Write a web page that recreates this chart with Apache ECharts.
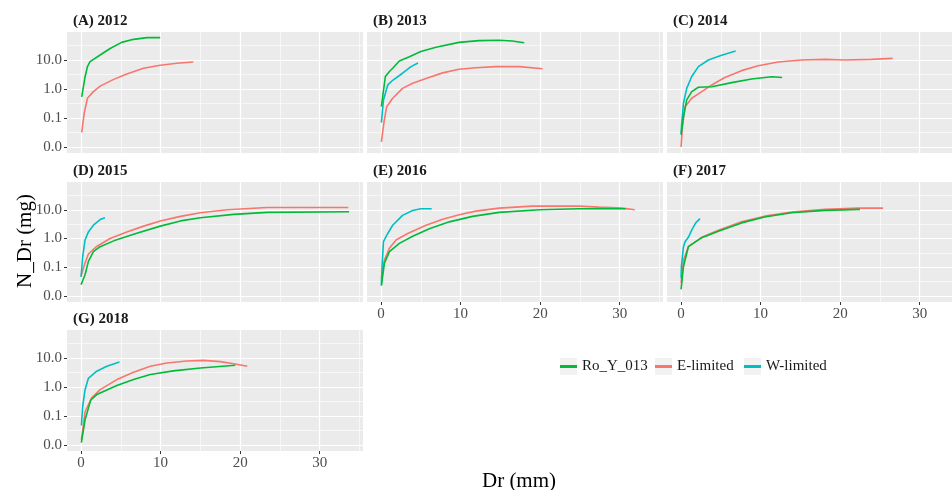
<!DOCTYPE html>
<html>
<head>
<meta charset="utf-8">
<script src="https://cdn.jsdelivr.net/npm/echarts@6/dist/echarts.min.js"></script>
<style>
  html, body { margin: 0; padding: 0; background: #fff; }
  #chart { width: 952px; height: 490px; }
</style>
</head>
<body>
<div id="chart"></div>
<script>
// panel titles and legend names
const panelTitles = ['(A) 2012', '(B) 2013', '(C) 2014', '(D) 2015', '(E) 2016', '(F) 2017', '(G) 2018'];
const seriesNames = ['Ro_Y_013', 'E-limited', 'W-limited'];
const seriesColors = ['#00BA38', '#F8766D', '#00BFC4'];

// tick positions (x in mm, y in log10 of mg) and labels
const xMajor = [0, 10, 20, 30];
const xMinor = [5, 15, 25, 35];
const yMajorLog = [-2, -1, 0, 1];
const yMinorLog = [-1.5, -0.5, 0.5, 1.5];
const yTickLabels = ['0.0', '0.1', '1.0', '10.0'];

// [Dr, N_Dr], one array per panel and series
const roA = [[0.08,0.54],[0.5,2.6],[0.8,5.9],[1.13,8.8],[2.4,14.9],[3.65,25],[5.1,40.6],[6.6,51.6],[8.3,59],[9.95,59]];
const eA  = [[0.08,0.032],[0.4,0.15],[0.8,0.48],[1.55,0.81],[2.4,1.26],[4.1,2.15],[5.75,3.3],[7.85,5.2],[9.95,6.6],[12.06,7.7],[14.1,8.5]];

const roB = [[0.04,0.245],[0.2,0.55],[0.54,2.7],[1.05,4.0],[1.46,5.2],[2.3,9.3],[3.56,13],[5.0,19.5],[6.9,27.5],[9.8,40.6],[12.3,46.6],[14.85,48],[16.5,45],[18.0,39.6]];
const eB  = [[0.04,0.015],[0.4,0.085],[0.71,0.245],[1.46,0.48],[2.7,1.05],[3.97,1.57],[5.65,2.3],[7.74,3.6],[9.8,4.8],[11.9,5.4],[14.4,5.9],[17.4,5.9],[20.3,5.0]];
const wB  = [[0.04,0.069],[0.3,0.42],[0.84,1.38],[1.46,2.0],[2.7,3.5],[3.77,5.9],[4.64,7.9]];

const roC = [[0,0.026],[0.3,0.11],[0.71,0.42],[1.34,0.81],[2.18,1.15],[3.85,1.2],[6.36,1.66],[8.87,2.2],[11.4,2.66],[12.7,2.5]];
const eC  = [[0,0.01],[0.17,0.05],[0.5,0.245],[1.34,0.48],[2.6,0.81],[3.85,1.38],[5.5,2.5],[7.6,4.3],[9.7,6.3],[12.2,8.5],[15.15,10],[18.1,10.5],[20.6,10],[23.9,10.5],[26.6,11.4]];
const wC  = [[0,0.03],[0.08,0.066],[0.3,0.32],[0.71,1.05],[1.34,2.7],[2.18,5.9],[3.43,10],[5.1,14.5],[6.86,20.5]];

const roD = [[0,0.025],[0.5,0.055],[0.92,0.16],[1.55,0.35],[2.4,0.52],[4.1,0.83],[6.6,1.4],[9.96,2.7],[12.5,4.1],[15,5.3],[19.2,6.9],[23.4,8.1],[33.7,8.5]];
const eD  = [[0,0.051],[0.5,0.14],[0.92,0.29],[1.97,0.53],[3.65,1.0],[5.75,1.7],[7.86,2.7],[9.96,4.1],[12.5,5.9],[15,7.9],[18.4,10],[23.4,12],[27.6,12],[33.6,12]];
const wD  = [[0,0.046],[0.2,0.23],[0.5,0.89],[0.92,1.7],[1.55,2.9],[2.4,4.55],[3.0,5.3]];

const roE = [[0.04,0.023],[0.42,0.14],[1.05,0.35],[2.3,0.68],[3.97,1.2],[6.07,2.2],[8.58,3.8],[11.5,5.9],[14.85,8.1],[19.9,10],[24.9,10.8],[30.75,10.8]];
const eE  = [[0.04,0.043],[0.42,0.18],[1.05,0.46],[1.88,0.89],[3.35,1.5],[5.65,2.9],[7.74,4.65],[9.83,6.7],[11.9,9.0],[14.85,11.4],[19,13.4],[22.4,13.4],[24.9,13.4],[27.4,12.4],[30.3,11.4],[31.9,10]];
const wE  = [[0.04,0.025],[0.12,0.107],[0.3,0.78],[0.84,1.5],[1.46,2.9],[2.7,6.4],[3.97,9.5],[5.0,10.8],[6.36,10.8]];

const roF = [[0,0.017],[0.3,0.107],[0.92,0.52],[2.6,1.07],[4.69,1.8],[7.6,3.5],[10.5,5.6],[13.9,7.9],[18.1,9.5],[22.5,10.3]];
const eF  = [[0,0.029],[0.3,0.18],[0.92,0.52],[2.6,1.1],[4.69,1.95],[7.6,3.8],[10.5,6.0],[13.9,8.3],[18.1,10.3],[22.3,11.4],[25.4,11.4]];
const wF  = [[0,0.043],[0.04,0.107],[0.3,0.52],[0.5,0.78],[0.92,1.1],[1.34,1.95],[1.84,3.5],[2.38,4.9]];

const roG = [[0.04,0.012],[0.5,0.074],[1.22,0.36],[1.97,0.55],[4.5,1.12],[6.6,1.8],[8.7,2.7],[11.6,3.6],[15,4.5],[19.4,5.6]];
const eG  = [[0.04,0.015],[0.5,0.14],[1.34,0.42],[2.4,0.81],[4.5,1.8],[6.6,3.2],[8.7,5.2],[10.8,6.7],[13.3,7.9],[15.4,8.3],[17.5,7.5],[19.2,6.3],[20.9,5.2]];
const wG  = [[0.04,0.047],[0.2,0.21],[0.5,0.81],[0.92,2.0],[1.97,3.5],[3.24,5.2],[4.83,7.3]];

const panelData = [
  [roA, eA, null],
  [roB, eB, wB],
  [roC, eC, wC],
  [roD, eD, wD],
  [roE, eE, wE],
  [roF, eF, wF],
  [roG, eG, wG]
];

const font = 'Liberation Serif';
const colLeft = [67, 367, 667];
const rowTop = [32, 182, 330];
const rowH = [121, 120, 121];
const panelW = 296;
const xMin = -1.77, xMax = 35.45;
const yMin = -2.207, yMax = 1.966;

const chart = echarts.init(document.getElementById('chart'));

const grids = [], xAxes = [], yAxes = [], series = [], titles = [];

panelTitles.forEach((t, i) => {
  const row = Math.floor(i / 3), col = i % 3;
  const showX = (i === 4 || i === 5 || i === 6);
  const showY = (col === 0);
  grids.push({
    left: colLeft[col], top: rowTop[row], width: panelW, height: rowH[row],
    show: true, backgroundColor: '#EBEBEB', borderWidth: 0, outerBoundsMode: 'none'
  });
  titles.push({
    text: t, left: colLeft[col] + 6, top: rowTop[row] - 18, padding: 0,
    textStyle: { fontFamily: font, fontWeight: 'bold', fontSize: 15, color: '#1a1a1a' }
  });
  // major x axis
  xAxes.push({
    type: 'value', gridIndex: i, min: xMin, max: xMax, position: 'bottom',
    axisLine: { show: false, onZero: false },
    axisTick: { show: showX, customValues: xMajor, length: 3, lineStyle: { color: '#333', width: 1 } },
    axisLabel: { show: showX, customValues: xMajor, margin: 5, fontFamily: font, fontSize: 15, color: '#4d4d4d' },
    splitLine: { show: true, lineStyle: { color: '#fff', width: 1.2 } }
  });
  // minor x grid
  xAxes.push({
    type: 'value', gridIndex: i, min: xMin, max: xMax, position: 'bottom',
    axisLine: { show: false, onZero: false },
    axisTick: { show: false, customValues: xMinor },
    axisLabel: { show: false, customValues: xMinor },
    splitLine: { show: true, lineStyle: { color: '#fff', width: 0.6 } }
  });
  yAxes.push({
    type: 'value', gridIndex: i, min: yMin, max: yMax, position: 'left',
    axisLine: { show: false, onZero: false },
    axisTick: { show: showY, customValues: yMajorLog, length: 3, lineStyle: { color: '#333', width: 1 } },
    axisLabel: {
      show: showY, customValues: yMajorLog, margin: 5, fontFamily: font, fontSize: 15, color: '#4d4d4d',
      formatter: v => yTickLabels[yMajorLog.indexOf(Math.round(v))]
    },
    splitLine: { show: true, lineStyle: { color: '#fff', width: 1.2 } }
  });
  yAxes.push({
    type: 'value', gridIndex: i, min: yMin, max: yMax, position: 'left',
    axisLine: { show: false, onZero: false },
    axisTick: { show: false, customValues: yMinorLog },
    axisLabel: { show: false, customValues: yMinorLog },
    splitLine: { show: true, lineStyle: { color: '#fff', width: 0.6 } }
  });
  // draw E-limited and W-limited first, Ro_Y_013 on top
  [1, 2, 0].forEach(k => {
    const d = panelData[i][k];
    if (!d) return;
    series.push({
      name: seriesNames[k], type: 'line', xAxisIndex: i * 2, yAxisIndex: i * 2,
      data: d.map(p => [p[0], Math.log10(p[1])]),
      showSymbol: false, symbol: 'none', smooth: false, clip: true,
      lineStyle: { color: seriesColors[k], width: 1.6 },
      itemStyle: { color: seriesColors[k] },
      emphasis: { disabled: true }
    });
  });
});

const legendLeft = [560, 655, 744];
const legends = seriesNames.map((n, k) => ({
  data: [n], left: legendLeft[k], top: 359, padding: 0, itemGap: 0,
  itemWidth: 17, itemHeight: 3, icon: 'rect', selectedMode: false,
  textStyle: { fontFamily: font, fontSize: 15, color: '#1a1a1a' }
}));

const keyBoxes = legendLeft.map(x => ({
  type: 'rect', shape: { x: x, y: 358, width: 17, height: 17 },
  style: { fill: '#F2F2F2' }, z: -1
}));

chart.setOption({
  animation: false,
  backgroundColor: '#fff',
  title: titles,
  grid: grids,
  xAxis: xAxes,
  yAxis: yAxes,
  legend: legends,
  series: series,
  graphic: keyBoxes.concat([
    {
      type: 'text', x: 25, y: 241, rotation: Math.PI / 2,
      style: { text: 'N_Dr (mg)', font: '21px "Liberation Serif"', fill: '#000', align: 'center', verticalAlign: 'middle' }
    },
    {
      type: 'text', x: 519, y: 481,
      style: { text: 'Dr (mm)', font: '21px "Liberation Serif"', fill: '#000', align: 'center', verticalAlign: 'middle' }
    }
  ])
});
</script>
</body>
</html>
